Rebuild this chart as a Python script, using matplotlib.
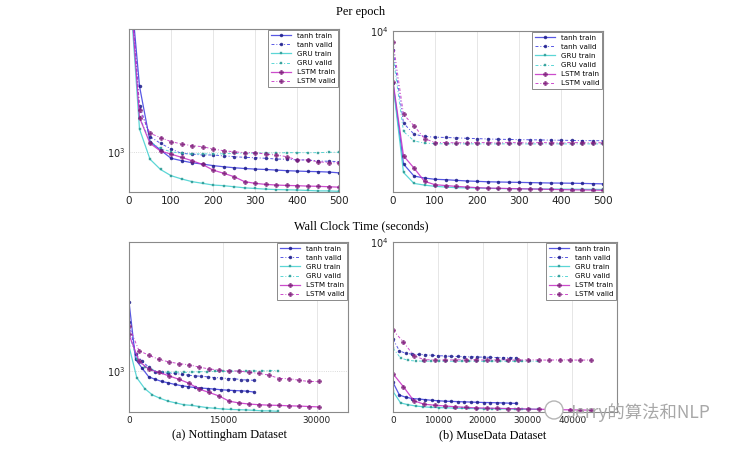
import numpy as np
import matplotlib
matplotlib.use("Agg")
import matplotlib.pyplot as plt
from matplotlib.patches import Ellipse
from matplotlib.ticker import LogLocator, NullLocator, NullFormatter

# epochs at which the curves were logged (every 25)
epochs = np.arange(0, 501, 25)

# Nottingham, cost per epoch
nott_tanh_train = [2800, 1450, 1062, 1013, 967, 954, 943, 936, 928, 922, 917,
                   913, 910, 908, 905, 902, 900, 898, 897, 895, 891]
nott_tanh_valid = [2900, 1300, 1092, 1052, 1019, 994, 990, 985, 985, 980, 976,
                   972, 970, 967, 963, 962, 958, 958, 952, 951, 949]
nott_gru_train = [2700, 1140, 962, 908, 877, 861, 848, 840, 832, 829, 824,
                  819, 816, 813, 811, 810, 809, 807, 805, 805, 803]
nott_gru_valid = [2800, 1220, 1062, 1022, 1003, 994, 990, 992, 990, 992, 994,
                  994, 996, 996, 996, 998, 998, 998, 998, 1000, 1000]
nott_lstm_train = [2800, 1215, 1052, 1007, 990, 972, 954, 934, 905, 889, 872,
                   848, 840, 835, 832, 830, 829, 827, 826, 824, 822]
nott_lstm_valid = [2900, 1270, 1113, 1086, 1062, 1048, 1038, 1032, 1019, 1009, 1003,
                   998, 998, 990, 985, 976, 958, 958, 949, 943, 943]

# MuseData, cost per epoch
muse_tanh_train = [7450, 4690, 4380, 4331, 4300, 4290, 4275, 4260, 4250, 4240, 4235,
                   4230, 4225, 4220, 4215, 4210, 4208, 4205, 4200, 4195, 4190]
muse_tanh_valid = [9000, 5919, 5560, 5487, 5465, 5455, 5445, 5430, 5420, 5410, 5400,
                   5395, 5390, 5385, 5380, 5375, 5370, 5365, 5360, 5358, 5355]
muse_gru_train = [7400, 4470, 4200, 4160, 4131, 4115, 4100, 4095, 4092, 4085, 4080,
                  4077, 4074, 4072, 4070, 4068, 4066, 4064, 4062, 4060, 4058]
muse_gru_valid = [8700, 5645, 5350, 5284, 5265, 5262, 5260, 5262, 5260, 5258, 5260,
                  5262, 5260, 5258, 5260, 5262, 5260, 5258, 5260, 5260, 5258]
muse_lstm_train = [7500, 4915, 4584, 4250, 4170, 4150, 4131, 4115, 4100, 4090, 4085,
                   4080, 4075, 4070, 4065, 4060, 4055, 4050, 4047, 4044, 4040]
muse_lstm_valid = [9400, 6220, 5830, 5420, 5300, 5300, 5290, 5300, 5295, 5300, 5290,
                   5300, 5295, 5290, 5300, 5295, 5290, 5300, 5295, 5290, 5295]

# wall clock seconds per epoch
nott_sec_per_epoch = {"tanh": 42, "GRU": 50, "LSTM": 64}
muse_sec_per_epoch = {"tanh": 58, "GRU": 68, "LSTM": 93}

models = ["tanh", "GRU", "LSTM"]
nott = {"tanh": (nott_tanh_train, nott_tanh_valid),
        "GRU": (nott_gru_train, nott_gru_valid),
        "LSTM": (nott_lstm_train, nott_lstm_valid)}
muse = {"tanh": (muse_tanh_train, muse_tanh_valid),
        "GRU": (muse_gru_train, muse_gru_valid),
        "LSTM": (muse_lstm_train, muse_lstm_valid)}

# line colour, marker colour, marker, marker size
styles = {
    "tanh": ("#3b3be0", "#1c1c8a", "o", 2.2),
    "GRU": ("#3fcfcf", "#2f9c96", "s", 2.0),
    "LSTM": ("#c42cc4", "#7c1a78", "P", 3.2),
}


def draw_panel(ax, data, sec_per_epoch=None):
    for m in models:
        line_c, mark_c, mk, ms = styles[m]
        for kind, y in zip(("train", "valid"), data[m]):
            y = np.asarray(y, dtype=float)
            if sec_per_epoch is None:
                x = epochs
            else:
                # wall clock panels start at the first logged point (epoch 25)
                x = (epochs[1:] - 25) * sec_per_epoch[m]
                y = y[1:]
            if kind == "train":
                ls, lw = "-", 0.9
            else:
                ls, lw = (0, (3, 2, 1, 2)), 0.7
            ax.plot(x, y, linestyle=ls, linewidth=lw, color=line_c, alpha=0.85,
                    marker=mk, markersize=ms, markerfacecolor=mark_c,
                    markeredgecolor=mark_c, markeredgewidth=0.3,
                    label=f"{m} {kind}")

    ax.set_yscale("log")
    ax.yaxis.set_major_locator(LogLocator(base=10))
    ax.yaxis.set_minor_locator(NullLocator())
    ax.yaxis.set_minor_formatter(NullFormatter())
    ax.grid(True, axis="x", color="#e2e2e2", linewidth=0.6)
    ax.grid(True, axis="y", color="#cfcfcf", linewidth=0.6, linestyle=":")
    ax.set_axisbelow(True)
    for s in ax.spines.values():
        s.set_color("#8a8a8a")
        s.set_linewidth(0.8)
    ax.tick_params(length=0, colors="#222222", pad=3)
    leg = ax.legend(loc="upper right", fontsize=5.1, frameon=True, fancybox=False,
                    edgecolor="#8a8a8a", framealpha=1, borderpad=0.35,
                    labelspacing=0.45, handlelength=2.9, handletextpad=0.8,
                    borderaxespad=0.15)
    leg.get_frame().set_linewidth(0.7)


fig = plt.figure(figsize=(7.47, 4.49), dpi=100)

ax_tl = fig.add_axes([129 / 747, 1 - 192 / 449, 210 / 747, 163 / 449])
ax_tr = fig.add_axes([393 / 747, 1 - 192 / 449, 210 / 747, 161 / 449])
ax_bl = fig.add_axes([129 / 747, 1 - 412 / 449, 219 / 747, 170 / 449])
ax_br = fig.add_axes([393 / 747, 1 - 412 / 449, 224 / 747, 170 / 449])

draw_panel(ax_tl, nott)
ax_tl.set_xlim(0, 500)
ax_tl.set_ylim(800, 2000)
ax_tl.set_xticks(range(0, 501, 100))

draw_panel(ax_tr, muse)
ax_tr.set_xlim(0, 500)
ax_tr.set_ylim(4000, 10000)
ax_tr.set_xticks(range(0, 501, 100))

draw_panel(ax_bl, nott, nott_sec_per_epoch)
ax_bl.set_xlim(0, 35000)
ax_bl.set_ylim(800, 2000)
ax_bl.set_xticks([0, 15000, 30000])

draw_panel(ax_br, muse, muse_sec_per_epoch)
ax_br.set_xlim(0, 50000)
ax_br.set_ylim(4000, 10000)
ax_br.set_xticks([0, 10000, 20000, 30000, 40000])

for ax in (ax_tl, ax_tr):
    ax.tick_params(axis="x", labelsize=7.5)
    ax.tick_params(axis="y", labelsize=7)
for ax in (ax_bl, ax_br):
    ax.tick_params(axis="x", labelsize=6.4)
    ax.tick_params(axis="y", labelsize=7)

serif = ["Liberation Serif", "DejaVu Serif"]
fig.text(361 / 747, 1 - 12 / 449, "Per epoch", ha="center", va="center",
         family=serif, fontsize=8.8)
fig.text(361 / 747, 1 - 226 / 449, "Wall Clock Time (seconds)", ha="center",
         va="center", family=serif, fontsize=8.8)
fig.text(229 / 747, 1 - 435 / 449, "(a) Nottingham Dataset", ha="center",
         va="center", family=serif, fontsize=8.8)
fig.text(493 / 747, 1 - 435 / 449, "(b) MuseData Dataset", ha="center",
         va="center", family=serif, fontsize=8.8)

# watermark (round logo + name), drawn over the last tick label as in the source
fig.add_artist(Ellipse((554 / 747, 1 - 410 / 449), 18 / 747, 18 / 449,
                       transform=fig.transFigure, facecolor="white",
                       edgecolor="#b5b5b5", linewidth=1.0, zorder=9))
fig.text(566 / 747, 1 - 412 / 449, "Jerry的算法和NLP", ha="left", va="center",
         family=["Noto Sans CJK SC", "DejaVu Sans"], fontsize=12.5,
         color="#a8a8a8", zorder=10)

fig.savefig("out.png", dpi=100)
